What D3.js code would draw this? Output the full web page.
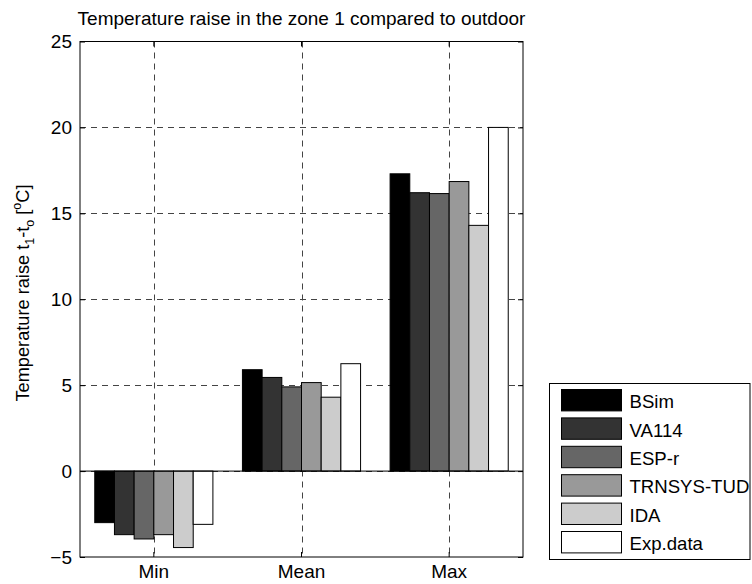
<!DOCTYPE html>
<html>
<head>
<meta charset="utf-8">
<script src="https://cdn.jsdelivr.net/npm/d3@7/dist/d3.min.js"></script>
<style>
  html, body { margin: 0; padding: 0; background: #fff; }
  svg { display: block; }
  text { font-family: "Liberation Sans", Arial, Helvetica, sans-serif; fill: #000; }
</style>
</head>
<body>
<svg id="chart" width="752" height="584"></svg>
<script>
// ---- data ----
const categories = ["Min", "Mean", "Max"];
const seriesNames = ["BSim", "VA114", "ESP-r", "TRNSYS-TUD", "IDA", "Exp.data"];
const bsim   = [-3.0, 5.9, 17.3];
const va114  = [-3.7, 5.45, 16.2];
const espr   = [-3.95, 4.9, 16.15];
const trnsys = [-3.7, 5.15, 16.85];
const ida    = [-4.45, 4.3, 14.3];
const expdata = [-3.1, 6.25, 20.0];
const yTicks = [-5, 0, 5, 10, 15, 20, 25];

const seriesValues = [bsim, va114, espr, trnsys, ida, expdata];
const fills = ["#000000", "#333333", "#666666", "#999999", "#cccccc", "#ffffff"];

// ---- layout ----
const L = 80, R = 523, T = 41.5, B = 557;
const svg = d3.select("#chart");

const x = d3.scaleBand().domain(categories).range([L, R]).paddingInner(0.2).paddingOuter(0.1);
const xs = d3.scaleBand().domain(seriesNames).range([0, x.bandwidth()]).padding(0);
const y = d3.scaleLinear().domain([-5, 25]).range([B, T]);

// grid
const grid = svg.append("g").attr("stroke", "#444").attr("stroke-width", 1).attr("stroke-dasharray", "6,5").attr("fill", "none");
yTicks.filter(v => v > -5 && v < 25).forEach(v => {
  grid.append("line").attr("x1", L).attr("x2", R).attr("y1", Math.round(y(v)) + 0.5).attr("y2", Math.round(y(v)) + 0.5);
});
categories.forEach(c => {
  const cx = Math.round(x(c) + x.bandwidth() / 2) + 0.5;
  grid.append("line").attr("x1", cx).attr("x2", cx).attr("y1", T).attr("y2", B);
});

// bars
const rows = [];
categories.forEach((c, ci) => {
  seriesNames.forEach((s, si) => rows.push({ c, s, si, v: seriesValues[si][ci] }));
});
svg.append("g").selectAll("rect").data(rows).join("rect")
  .attr("x", d => x(d.c) + xs(d.s))
  .attr("width", xs.bandwidth())
  .attr("y", d => y(Math.max(0, d.v)))
  .attr("height", d => Math.abs(y(d.v) - y(0)))
  .attr("fill", d => fills[d.si])
  .attr("stroke", "#000")
  .attr("stroke-width", 1);

// baseline
svg.append("line").attr("x1", L).attr("x2", R).attr("y1", y(0)).attr("y2", y(0)).attr("stroke", "#000").attr("stroke-width", 1);

// axes
const fs = "19px";
const yAxis = svg.append("g").attr("transform", `translate(${L},0)`)
  .call(d3.axisLeft(y).tickValues(yTicks).tickSizeInner(-5).tickSizeOuter(0).tickPadding(8));
yAxis.selectAll("text").style("font-size", fs);
svg.append("g").attr("transform", `translate(${R},0)`)
  .call(d3.axisRight(y).tickValues(yTicks).tickSizeInner(-5).tickSizeOuter(0).tickFormat(""));
const xAxis = svg.append("g").attr("transform", `translate(0,${B})`)
  .call(d3.axisBottom(x).tickSizeInner(-5).tickSizeOuter(0).tickPadding(8));
xAxis.selectAll("text").style("font-size", fs);
svg.append("g").attr("transform", `translate(0,${T})`)
  .call(d3.axisTop(x).tickSizeInner(-5).tickSizeOuter(0).tickFormat(""));
svg.selectAll(".domain").remove();
svg.selectAll(".tick line").attr("stroke", "#000");

// box
svg.append("rect").attr("x", L).attr("y", T).attr("width", R - L).attr("height", B - T)
  .attr("fill", "none").attr("stroke", "#000").attr("stroke-width", 1);

// title
svg.append("text").attr("x", (L + R) / 2).attr("y", 25).attr("text-anchor", "middle")
  .style("font-size", fs).text("Temperature raise in the zone 1 compared to outdoor");

// y label
const yl = svg.append("text").attr("transform", `translate(28.5,293) rotate(-90)`)
  .attr("text-anchor", "middle").style("font-size", "18.2px");
yl.append("tspan").text("Temperature raise t");
yl.append("tspan").attr("dy", 5).style("font-size", "12.5px").text("1");
yl.append("tspan").attr("dy", -5).text("-t");
yl.append("tspan").attr("dy", 5).style("font-size", "12.5px").text("o");
yl.append("tspan").attr("dy", -5).text(" [");
yl.append("tspan").attr("dy", -8).style("font-size", "12.5px").text("o");
yl.append("tspan").attr("dy", 8).text("C]");

// legend
const lg = svg.append("g");
lg.append("rect").attr("x", 549.5).attr("y", 383.5).attr("width", 200.5).attr("height", 176)
  .attr("fill", "#fff").attr("stroke", "#000").attr("stroke-width", 1);
seriesNames.forEach((s, i) => {
  const yy = 389.5 + i * 28.4;
  lg.append("rect").attr("x", 561.5).attr("y", yy).attr("width", 60).attr("height", 21.4)
    .attr("fill", fills[i]).attr("stroke", "#000").attr("stroke-width", 1);
  lg.append("text").attr("x", 629.5).attr("y", yy + 10.7 + 8).style("font-size", "18.6px").text(s);
});
</script>
</body>
</html>
